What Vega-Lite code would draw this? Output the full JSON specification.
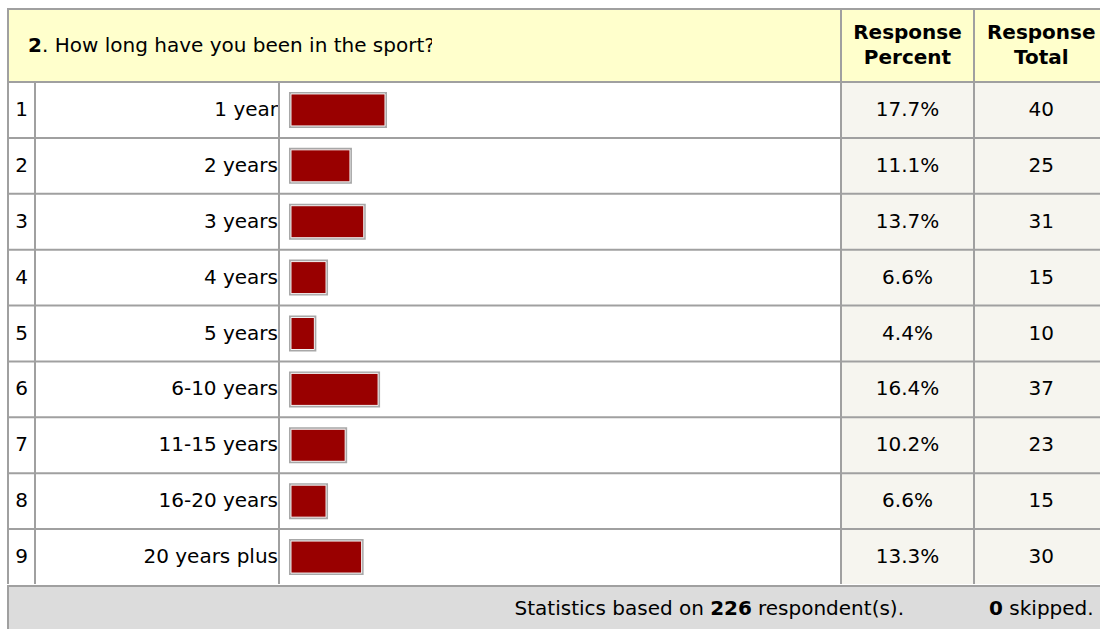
{
  "$schema": "https://vega.github.io/schema/vega-lite/v6.json",
  "padding": {"left": 7, "top": 8, "right": 0, "bottom": 0},
  "background": "white",
  "datasets": {
    "rows": [
      {"row": 1, "label": "1 year", "share": 0.177, "total": 40},
      {"row": 2, "label": "2 years", "share": 0.111, "total": 25},
      {"row": 3, "label": "3 years", "share": 0.137, "total": 31},
      {"row": 4, "label": "4 years", "share": 0.066, "total": 15},
      {"row": 5, "label": "5 years", "share": 0.044, "total": 10},
      {"row": 6, "label": "6-10 years", "share": 0.164, "total": 37},
      {"row": 7, "label": "11-15 years", "share": 0.102, "total": 23},
      {"row": 8, "label": "16-20 years", "share": 0.066, "total": 15},
      {"row": 9, "label": "20 years plus", "share": 0.133, "total": 30}
    ],
    "one": [{}]
  },
  "config": {
    "view": {"stroke": null},
    "text": {"font": "DejaVu Sans", "fontSize": 20, "color": "#000000"}
  },
  "spacing": 0,
  "bounds": "full",
  "resolve": {"scale": {"x": "independent", "y": "independent"}},
  "vconcat": [
    {"width": 1093, "height": 2, "data": {"name": "one"}, "mark": {"type": "rect", "fill": "#a0a0a0"}, "encoding": {}},
    {
      "spacing": 0,
      "bounds": "flush",
      "resolve": {"scale": {"x": "independent", "y": "independent"}},
      "hconcat": [
        {"width": 2, "height": 71, "data": {"name": "one"}, "mark": {"type": "rect", "fill": "#a0a0a0"}, "encoding": {}},
        {"width": 33, "height": 71, "view": {"fill": "#ffffcc"}, "data": {"name": "one"}, "mark": {"type": "text", "fontWeight": "bold", "align": "right"}, "encoding": {"x": {"value": "width"}, "text": {"value": "2"}}},
        {"width": 390, "height": 71, "view": {"fill": "#ffffcc"}, "data": {"name": "one"}, "mark": {"type": "text", "align": "left"}, "encoding": {"x": {"datum": 0, "type": "quantitative", "scale": {"domain": [0, 1]}, "axis": null}, "text": {"value": ". How long have you been in the sport?"}}},
        {"width": 408, "height": 71, "data": {"name": "one"}, "mark": {"type": "rect", "fill": "#ffffcc"}, "encoding": {}},
        {"width": 2, "height": 71, "data": {"name": "one"}, "mark": {"type": "rect", "fill": "#a0a0a0"}, "encoding": {}},
        {"width": 131, "height": 71, "view": {"fill": "#ffffcc"}, "data": {"name": "one"}, "mark": {"type": "text", "fontWeight": "bold", "lineHeight": 25}, "encoding": {"y": {"datum": 0.676, "type": "quantitative", "scale": {"domain": [0, 1]}, "axis": null}, "text": {"value": ["Response", "Percent"]}}},
        {"width": 2, "height": 71, "data": {"name": "one"}, "mark": {"type": "rect", "fill": "#a0a0a0"}, "encoding": {}},
        {"width": 125, "height": 71, "view": {"fill": "#ffffcc"}, "data": {"name": "one"}, "mark": {"type": "text", "fontWeight": "bold", "lineHeight": 25}, "encoding": {"x": {"datum": 0.53, "type": "quantitative", "scale": {"domain": [0, 1]}, "axis": null}, "y": {"datum": 0.676, "type": "quantitative", "scale": {"domain": [0, 1]}, "axis": null}, "text": {"value": ["Response", "Total"]}}}
      ]
    },
    {"width": 1093, "height": 2, "data": {"name": "one"}, "mark": {"type": "rect", "fill": "#a0a0a0"}, "encoding": {}},
    {
      "spacing": 0,
      "bounds": "flush",
      "resolve": {"scale": {"x": "independent", "y": "independent"}},
      "hconcat": [
        {"width": 2, "height": 501, "data": {"name": "one"}, "mark": {"type": "rect", "fill": "#a0a0a0"}, "encoding": {}},
        {
          "width": 25, "height": 501, "view": {"fill": "#a0a0a0"}, "data": {"name": "rows"},
          "layer": [
            {"mark": {"type": "rect", "fill": "#ffffff"}, "encoding": {"y": {"field": "row", "type": "ordinal", "axis": null, "scale": {"paddingInner": 0.03579, "paddingOuter": 0}}}},
            {"mark": {"type": "text"}, "encoding": {"y": {"field": "row", "type": "ordinal", "axis": null}, "text": {"field": "row", "type": "nominal"}}}
          ]
        },
        {"width": 2, "height": 501, "data": {"name": "one"}, "mark": {"type": "rect", "fill": "#a0a0a0"}, "encoding": {}},
        {
          "width": 242, "height": 501, "view": {"fill": "#a0a0a0"}, "data": {"name": "rows"},
          "layer": [
            {"mark": {"type": "rect", "fill": "#ffffff"}, "encoding": {"y": {"field": "row", "type": "ordinal", "axis": null, "scale": {"paddingInner": 0.03579, "paddingOuter": 0}}}},
            {"mark": {"type": "text", "align": "right"}, "encoding": {"y": {"field": "row", "type": "ordinal", "axis": null}, "x": {"value": "width"}, "text": {"field": "label", "type": "nominal"}}}
          ]
        },
        {"width": 2, "height": 501, "data": {"name": "one"}, "mark": {"type": "rect", "fill": "#a0a0a0"}, "encoding": {}},
        {
          "width": 560, "height": 501, "view": {"fill": "#a0a0a0"}, "data": {"name": "rows"},
          "layer": [
            {"mark": {"type": "rect", "fill": "#ffffff"}, "encoding": {"y": {"field": "row", "type": "ordinal", "axis": null, "scale": {"paddingInner": 0.03579, "paddingOuter": 0}}}},
            {
              "mark": {"type": "bar", "fill": "#990000", "stroke": "#a8a8a8", "strokeWidth": 4, "height": {"band": 0.594}},
              "encoding": {"y": {"field": "row", "type": "ordinal", "axis": null}, "x": {"field": "share", "type": "quantitative", "scale": {"domain": [-0.0207, 1.0338]}, "axis": null}}
            },
            {
              "mark": {"type": "bar", "fill": "#990000", "stroke": "#f4f4f4", "strokeWidth": 1, "height": {"band": 0.594}},
              "encoding": {"y": {"field": "row", "type": "ordinal", "axis": null}, "x": {"field": "share", "type": "quantitative", "scale": {"domain": [-0.0207, 1.0338]}, "axis": null}}
            }
          ]
        },
        {"width": 2, "height": 501, "data": {"name": "one"}, "mark": {"type": "rect", "fill": "#a0a0a0"}, "encoding": {}},
        {
          "width": 131, "height": 501, "view": {"fill": "#a0a0a0"}, "data": {"name": "rows"},
          "layer": [
            {"mark": {"type": "rect", "fill": "#f6f5ef"}, "encoding": {"y": {"field": "row", "type": "ordinal", "axis": null, "scale": {"paddingInner": 0.03579, "paddingOuter": 0}}}},
            {"mark": {"type": "text"}, "encoding": {"y": {"field": "row", "type": "ordinal", "axis": null}, "text": {"field": "share", "type": "quantitative", "format": ".1%"}}}
          ]
        },
        {"width": 2, "height": 501, "data": {"name": "one"}, "mark": {"type": "rect", "fill": "#a0a0a0"}, "encoding": {}},
        {
          "width": 125, "height": 501, "view": {"fill": "#a0a0a0"}, "data": {"name": "rows"},
          "layer": [
            {"mark": {"type": "rect", "fill": "#f6f5ef"}, "encoding": {"y": {"field": "row", "type": "ordinal", "axis": null, "scale": {"paddingInner": 0.03579, "paddingOuter": 0}}}},
            {"mark": {"type": "text"}, "encoding": {"y": {"field": "row", "type": "ordinal", "axis": null}, "x": {"datum": 0.53, "type": "quantitative", "scale": {"domain": [0, 1]}, "axis": null}, "text": {"field": "total", "type": "quantitative"}}}
          ]
        }
      ]
    },
    {"width": 1093, "height": 2, "data": {"name": "one"}, "mark": {"type": "rect", "fill": "#a0a0a0"}, "encoding": {}},
    {
      "spacing": 0,
      "bounds": "flush",
      "resolve": {"scale": {"x": "independent", "y": "independent"}},
      "hconcat": [
        {"width": 2, "height": 43, "data": {"name": "one"}, "mark": {"type": "rect", "fill": "#a0a0a0"}, "encoding": {}},
        {"width": 695, "height": 43, "view": {"fill": "#dcdcdc"}, "data": {"name": "one"}, "mark": {"type": "text", "align": "right"}, "encoding": {"x": {"value": "width"}, "text": {"value": "Statistics based on"}}},
        {"width": 54, "height": 43, "view": {"fill": "#dcdcdc"}, "data": {"name": "one"}, "mark": {"type": "text", "fontWeight": "bold"}, "encoding": {"text": {"value": "226"}}},
        {"width": 146, "height": 43, "view": {"fill": "#dcdcdc"}, "data": {"name": "one"}, "mark": {"type": "text"}, "encoding": {"text": {"value": "respondent(s)."}}},
        {"width": 99, "height": 43, "view": {"fill": "#dcdcdc"}, "data": {"name": "one"}, "mark": {"type": "text", "fontWeight": "bold", "align": "right"}, "encoding": {"x": {"value": "width"}, "text": {"value": "0"}}},
        {"width": 97, "height": 43, "view": {"fill": "#dcdcdc"}, "data": {"name": "one"}, "mark": {"type": "text"}, "encoding": {"text": {"value": "skipped."}}}
      ]
    }
  ]
}
